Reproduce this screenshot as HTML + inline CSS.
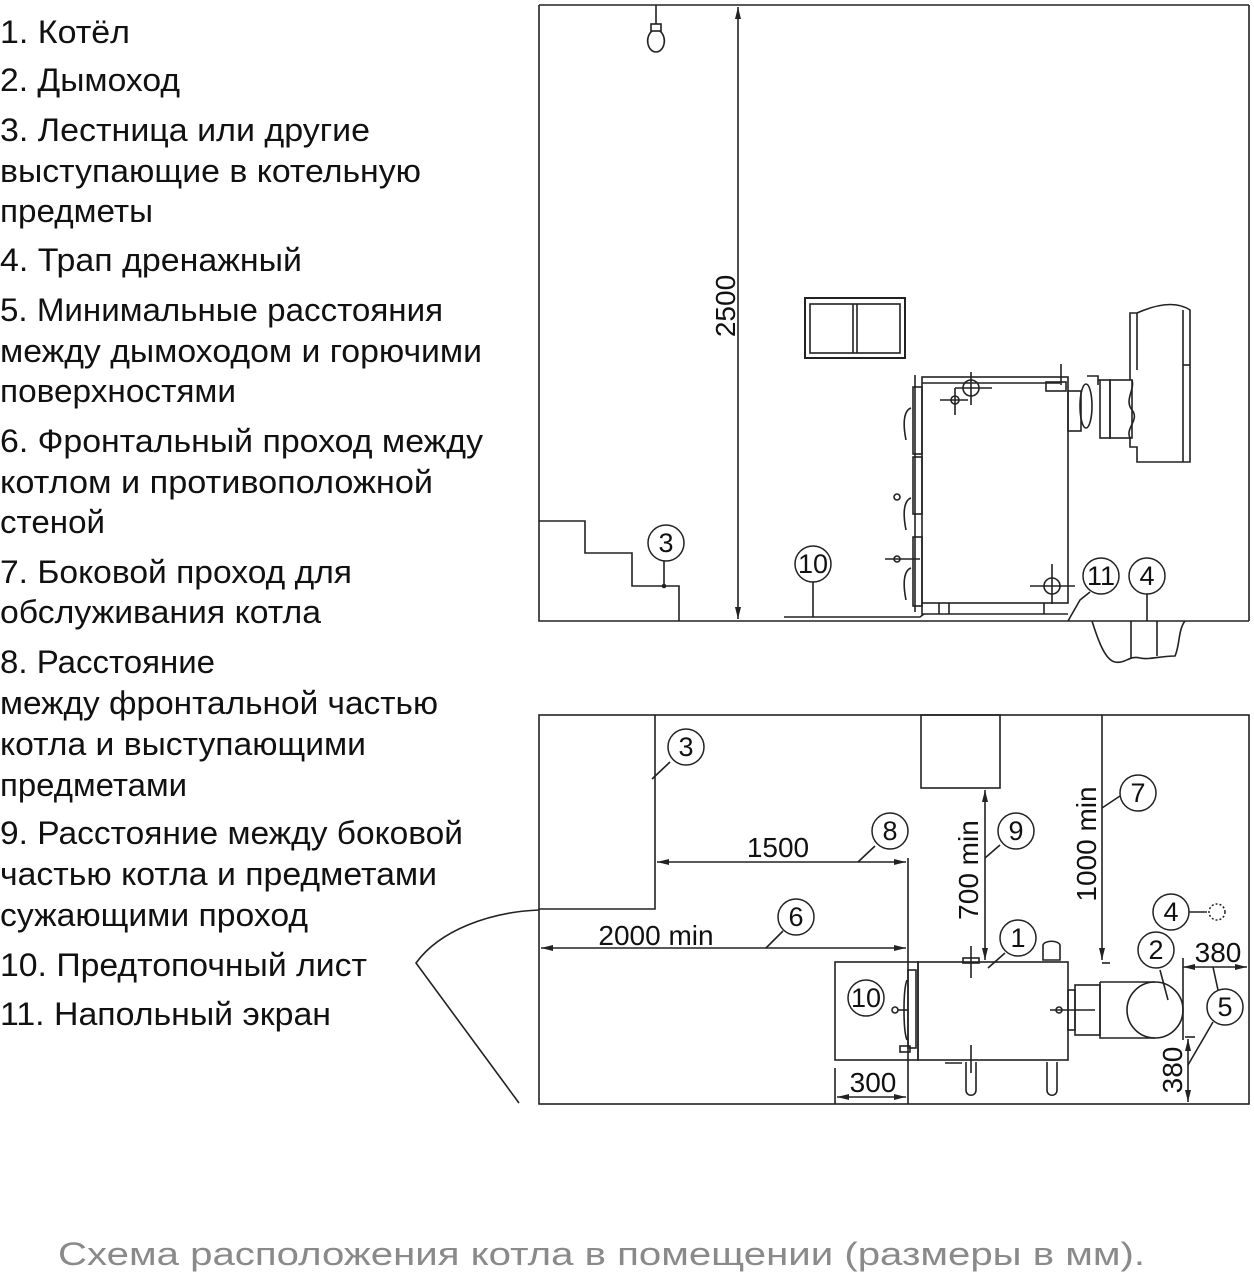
<!DOCTYPE html>
<html><head><meta charset="utf-8"><style>
html,body{margin:0;padding:0;background:#fff;}
svg{display:block;}
.t{font-family:"Liberation Sans","DejaVu Sans",sans-serif;font-size:32px;fill:#111;}
.d{font-family:"Liberation Sans",sans-serif;font-size:28px;fill:#111;}
.n{font-family:"Liberation Sans",sans-serif;font-size:27px;fill:#111;text-anchor:middle;}
</style></head><body>
<svg width="1254" height="1280" viewBox="0 0 1254 1280" xmlns="http://www.w3.org/2000/svg">
<defs>
<marker id="a" viewBox="0 0 12 6" refX="12" refY="3" markerWidth="12" markerHeight="6" orient="auto-start-reverse" markerUnits="userSpaceOnUse"><path d="M0,0 L12,3 L0,6 z" fill="#222"/></marker>
</defs>
<g class="t" lengthAdjust="spacingAndGlyphs">
<text x="0" y="43" textLength="130" lengthAdjust="spacingAndGlyphs">1. Котёл</text>
<text x="0" y="91" textLength="180" lengthAdjust="spacingAndGlyphs">2. Дымоход</text>
<text x="0" y="141" textLength="370" lengthAdjust="spacingAndGlyphs">3. Лестница или другие</text>
<text x="0" y="182" textLength="421" lengthAdjust="spacingAndGlyphs">выступающие в котельную</text>
<text x="0" y="222" textLength="153" lengthAdjust="spacingAndGlyphs">предметы</text>
<text x="0" y="271" textLength="302" lengthAdjust="spacingAndGlyphs">4. Трап дренажный</text>
<text x="0" y="321" textLength="443" lengthAdjust="spacingAndGlyphs">5. Минимальные расстояния</text>
<text x="0" y="362" textLength="482" lengthAdjust="spacingAndGlyphs">между дымоходом и горючими</text>
<text x="0" y="402" textLength="236" lengthAdjust="spacingAndGlyphs">поверхностями</text>
<text x="0" y="452" textLength="483" lengthAdjust="spacingAndGlyphs">6. Фронтальный проход между</text>
<text x="0" y="493" textLength="433" lengthAdjust="spacingAndGlyphs">котлом и противоположной</text>
<text x="0" y="533" textLength="105" lengthAdjust="spacingAndGlyphs">стеной</text>
<text x="0" y="583" textLength="352" lengthAdjust="spacingAndGlyphs">7. Боковой проход для</text>
<text x="0" y="623" textLength="321" lengthAdjust="spacingAndGlyphs">обслуживания котла</text>
<text x="0" y="673" textLength="215" lengthAdjust="spacingAndGlyphs">8. Расстояние</text>
<text x="0" y="714" textLength="438" lengthAdjust="spacingAndGlyphs">между фронтальной частью</text>
<text x="0" y="755" textLength="366" lengthAdjust="spacingAndGlyphs">котла и выступающими</text>
<text x="0" y="796" textLength="187" lengthAdjust="spacingAndGlyphs">предметами</text>
<text x="0" y="844" textLength="463" lengthAdjust="spacingAndGlyphs">9. Расстояние между боковой</text>
<text x="0" y="885" textLength="437" lengthAdjust="spacingAndGlyphs">частью котла и предметами</text>
<text x="0" y="926" textLength="308" lengthAdjust="spacingAndGlyphs">сужающими проход</text>
<text x="0" y="976" textLength="367" lengthAdjust="spacingAndGlyphs">10. Предтопочный лист</text>
<text x="0" y="1025" textLength="331" lengthAdjust="spacingAndGlyphs">11. Напольный экран</text>
</g>
<text x="58" y="1265" textLength="1087" lengthAdjust="spacingAndGlyphs" style="font-family:'Liberation Sans',sans-serif;font-size:32px;fill:#8a8a8a">Схема расположения котла в помещении (размеры в мм).</text>

<g stroke="#222" stroke-width="1.6" fill="none">
<path d="M539,5 H1249 M539,5 V621 H1249 M1249,5 V621"/>
<path d="M539,521 H585 V553 H632 V586 H679 V621"/>
<line x1="664" y1="561" x2="664" y2="586"/>
<circle cx="664" cy="586" r="1.5" fill="#222"/>
<line x1="656" y1="5" x2="656" y2="24"/>
<rect x="651" y="24" width="10" height="7"/>
<path d="M652,31 C644,38 648,52 656,52 C664,52 668,38 660,31"/>
<line x1="738" y1="7" x2="738" y2="619" marker-start="url(#a)" marker-end="url(#a)"/>
<rect x="805" y="298" width="100" height="60" stroke-width="2"/>
<rect x="810" y="304" width="90" height="49"/>
<line x1="853" y1="304" x2="853" y2="353"/><line x1="857" y1="304" x2="857" y2="353"/>
<rect x="922" y="377" width="146" height="226"/>
<line x1="922" y1="383" x2="1060" y2="383"/>
<rect x="913" y="387" width="9" height="67"/><rect x="913" y="457" width="9" height="57"/><rect x="913" y="537" width="9" height="69"/>
<line x1="915" y1="375" x2="915" y2="612"/>
<path d="M906,440 C902,420 905,410 911,408 M906,530 C902,510 905,500 911,498 M906,600 C902,580 905,570 911,568"/>
<circle cx="897" cy="497" r="3"/><circle cx="897" cy="559" r="3"/>
<line x1="885" y1="559" x2="920" y2="559"/>
<circle cx="971" cy="388" r="8"/><line x1="955" y1="388" x2="992" y2="388"/><line x1="971" y1="372" x2="971" y2="405"/>
<circle cx="955" cy="400" r="4"/><line x1="940" y1="400" x2="968" y2="400"/><line x1="955" y1="388" x2="955" y2="415"/>
<circle cx="1052" cy="586" r="8"/><line x1="1030" y1="586" x2="1075" y2="586"/><line x1="1052" y1="564" x2="1052" y2="604"/>
<rect x="1046" y="382" width="20" height="9"/>
<line x1="1061" y1="364" x2="1061" y2="385"/>
<path d="M922,603 V614 H1068 M939,603 V614 M949,603 V614 M1044,603 V614"/>
<rect x="1068" y="391" width="13" height="40"/>
<ellipse cx="1086" cy="406" rx="6" ry="22"/>
<path d="M1087,376 H1098 V385 M1098,380 H1100"/>
<rect x="1100" y="380" width="10" height="58"/><rect x="1110" y="380" width="22" height="58"/>
<path d="M1130,380 V313 H1137 C1155,305 1175,300 1190,310 V462 H1137 V447 H1130 V438 C1125,428 1140,420 1132,410 C1124,400 1135,390 1132,380"/>
<line x1="1137" y1="313" x2="1137" y2="370"/><line x1="1183" y1="310" x2="1183" y2="462"/><line x1="1183" y1="365" x2="1190" y2="365"/>
<path d="M784,617 H920 L924,614"/>
<line x1="813" y1="582" x2="813" y2="617"/>
<path d="M1068,621 L1080,600 L1090,592"/>
<path d="M1092,621 C1098,640 1105,660 1115,662 C1125,664 1130,655 1140,658 C1150,660 1160,656 1175,656 C1180,645 1178,630 1185,621"/>
<path d="M1131,621 V658 M1157,621 V656 M1147,594 V621"/>

<rect x="539" y="715" width="710" height="389"/>
<path d="M655,715 V909 H539"/>
<path d="M539,910 C490,912 440,930 416,963 L519,1103"/>
<path d="M652,779 L670,762"/>
<rect x="921" y="715" width="79" height="73"/>
<line x1="985" y1="790" x2="985" y2="960" marker-start="url(#a)" marker-end="url(#a)"/>
<line x1="1102" y1="715" x2="1102" y2="960" marker-end="url(#a)"/>
<line x1="1102" y1="963" x2="1110" y2="963"/>
<line x1="657" y1="862" x2="906" y2="862" marker-start="url(#a)" marker-end="url(#a)"/>
<line x1="541" y1="948" x2="906" y2="948" marker-start="url(#a)" marker-end="url(#a)"/>
<line x1="908" y1="858" x2="908" y2="1104"/>
<path d="M858,862 L875,846 M766,948 L783,931 M985,858 L1000,845 M1102,808 L1120,796"/>
<rect x="835" y="962" width="83" height="98"/>
<rect x="918" y="962" width="150" height="98"/>
<rect x="908" y="970" width="8" height="78"/>
<path d="M907,980 C903,990 903,1030 907,1040"/>
<circle cx="895" cy="1010" r="3"/><line x1="898" y1="1010" x2="908" y2="1010"/>
<rect x="900" y="1046" width="10" height="6"/>
<line x1="971" y1="946" x2="971" y2="978"/><line x1="971" y1="1045" x2="971" y2="1073"/>
<rect x="963" y="958" width="16" height="5"/>
<path d="M1043,960 V945 C1045,940 1058,940 1060,945 V960 Z"/>
<path d="M966,1062 V1090 C966,1097 976,1097 976,1090 V1062 M1047,1062 V1090 C1047,1097 1057,1097 1057,1090 V1062"/>
<line x1="945" y1="1063" x2="962" y2="1063"/>
<line x1="988" y1="968" x2="1005" y2="953"/>
<circle cx="1059" cy="1010" r="3"/><line x1="1050" y1="1010" x2="1095" y2="1010"/>
<rect x="1068" y="990" width="7" height="40"/><rect x="1075" y="985" width="25" height="50"/>
<path d="M1100,982 V1038 H1155 M1100,982 H1155"/>
<circle cx="1155" cy="1010" r="28"/>
<line x1="1168" y1="1000" x2="1160" y2="970"/>
<line x1="835" y1="1068" x2="835" y2="1104"/>
<line x1="837" y1="1097" x2="906" y2="1097" marker-start="url(#a)" marker-end="url(#a)"/>
<line x1="1183" y1="967" x2="1247" y2="967" marker-start="url(#a)" marker-end="url(#a)"/>
<line x1="1183" y1="958" x2="1183" y2="1040"/>
<line x1="1188" y1="1039" x2="1188" y2="1102" marker-start="url(#a)" marker-end="url(#a)"/>
<line x1="1185" y1="1037" x2="1195" y2="1037"/>
<path d="M1213,967 L1218,990 M1188,1065 L1213,1022"/>
<line x1="1189" y1="912" x2="1207" y2="912"/>
</g>
<circle cx="1217" cy="912" r="8" fill="none" stroke="#222" stroke-width="1.5" stroke-dasharray="2 2"/>

<text class="d" transform="translate(735,306) rotate(-90)" text-anchor="middle">2500</text>
<text class="d" x="778" y="857" text-anchor="middle">1500</text>
<text class="d" x="656" y="945" text-anchor="middle">2000 min</text>
<text class="d" x="873" y="1092" text-anchor="middle">300</text>
<text class="d" x="1218" y="962" text-anchor="middle">380</text>
<text class="d" transform="translate(1182,1070) rotate(-90)" text-anchor="middle">380</text>
<text class="d" transform="translate(978,870) rotate(-90)" text-anchor="middle">700 min</text>
<text class="d" transform="translate(1096,844) rotate(-90)" text-anchor="middle">1000 min</text>

<g fill="#fff" stroke="#222" stroke-width="1.5">
<circle cx="666" cy="543" r="18"/><circle cx="813" cy="564" r="18"/><circle cx="1101" cy="576" r="18"/><circle cx="1147" cy="576" r="18"/>
<circle cx="686" cy="747" r="18"/><circle cx="890" cy="831" r="18"/><circle cx="1016" cy="831" r="18"/><circle cx="1138" cy="793" r="18"/>
<circle cx="796" cy="917" r="18"/><circle cx="1018" cy="938" r="18"/><circle cx="1171" cy="912" r="18"/><circle cx="1156" cy="950" r="18"/>
<circle cx="1225" cy="1007" r="18"/><circle cx="866" cy="998" r="18"/>
</g>
<g class="n">
<text x="666" y="552">3</text><text x="813" y="573">10</text><text x="1101" y="585">11</text><text x="1147" y="585">4</text>
<text x="686" y="756">3</text><text x="890" y="840">8</text><text x="1016" y="840">9</text><text x="1138" y="802">7</text>
<text x="796" y="926">6</text><text x="1018" y="947">1</text><text x="1171" y="921">4</text><text x="1156" y="959">2</text>
<text x="1225" y="1016">5</text><text x="866" y="1007">10</text>
</g>
</svg>
</body></html>
